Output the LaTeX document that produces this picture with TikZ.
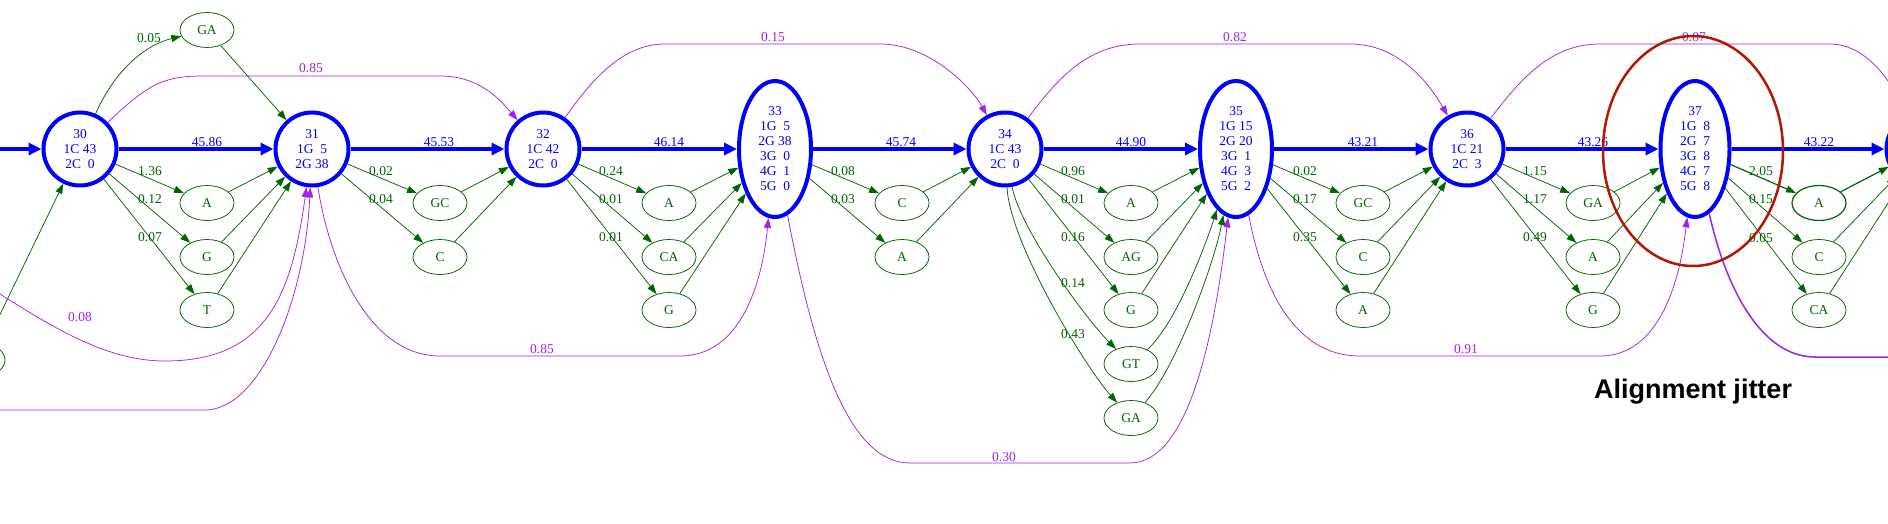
\documentclass[tikz,border=0pt]{standalone}
\usepackage{fontspec}
\setmainfont{Liberation Serif}
\newfontfamily\jitterfont{Liberation Sans}
\usetikzlibrary{arrows.meta,shapes.geometric}
\definecolor{bbblue}{RGB}{0,0,255}
\definecolor{vargreen}{RGB}{0,100,0}
\definecolor{jumppurple}{RGB}{160,32,240}
\definecolor{jitterred}{RGB}{175,25,0}
\begin{document}
\begin{tikzpicture}[x=1pt,y=-1pt,line join=round,font=\fontsize{13.5}{15}\selectfont,
  bbnode/.style={circle,draw=bbblue,line width=4pt,minimum size=73pt,inner sep=0pt,text=bbblue,align=center},
  bbell/.style={bbnode,ellipse,minimum width=72pt,minimum height=136pt},
  varnode/.style={ellipse,draw=vargreen,line width=.75pt,minimum width=54pt,minimum height=35pt,inner sep=0pt,text=vargreen},
  bbedge/.style={draw=bbblue,line width=4pt,-{Triangle[length=13pt,width=12pt]}},
  varedge/.style={draw=vargreen,line width=.75pt,-{Triangle[length=10pt,width=7pt]}},
  jumpedge/.style={draw=jumppurple,line width=.75pt,-{Triangle[length=10pt,width=7pt]}},
  wlbl/.style={inner sep=0pt,text=vargreen},
  blbl/.style={inner sep=0pt,text=bbblue},
  plbl/.style={inner sep=0pt,text=jumppurple}]
\useasboundingbox (0,0) rectangle (1888,523);
\clip (0,0) rectangle (1888,523);
% backbone columns
\node[bbnode] (n30) at (80,149) {30\\1C 43\\2C\ \ 0};
\node[bbnode] (n31) at (312,149) {31\\1G\ \ 5\\2G 38};
\node[bbnode] (n32) at (543,149) {32\\1C 42\\2C\ \ 0};
\node[bbell] (n33) at (775,149) {33\\1G\ \ 5\\2G 38\\3G\ \ 0\\4G\ \ 1\\5G\ \ 0};
\node[bbnode] (n34) at (1005,149) {34\\1C 43\\2C\ \ 0};
\node[bbell] (n35) at (1236,149) {35\\1G 15\\2G 20\\3G\ \ 1\\4G\ \ 3\\5G\ \ 2};
\node[bbnode] (n36) at (1467,149) {36\\1C 21\\2C\ \ 3};
\node[bbell,minimum width=69pt] (n37) at (1695,149) {37\\1G\ \ 8\\2G\ \ 7\\3G\ \ 8\\4G\ \ 7\\5G\ \ 8};
\node[bbnode] (n38) at (1923,149) {};
\coordinate (s29) at (-10,149);
\coordinate (p29a) at (-40,268);
\coordinate (p29b) at (-20,410);
\coordinate (p38) at (1960,357);
% variant nodes
\node[varnode] (v29) at (-22,360) {};
\node[varnode] (v30ga) at (207,30) {GA};
\node[varnode] (v30a) at (207,203) {A};
\node[varnode] (v30g) at (207,257) {G};
\node[varnode] (v30t) at (207,310) {T};
\node[varnode] (v31gc) at (440,203) {GC};
\node[varnode] (v31c) at (440,257) {C};
\node[varnode] (v32a) at (669,203) {A};
\node[varnode] (v32ca) at (669,257) {CA};
\node[varnode] (v32g) at (669,310) {G};
\node[varnode] (v33c) at (902,203) {C};
\node[varnode] (v33a) at (902,257) {A};
\node[varnode] (v34a) at (1131,203) {A};
\node[varnode] (v34ag) at (1131,257) {AG};
\node[varnode] (v34g) at (1131,310) {G};
\node[varnode] (v34gt) at (1131,364) {GT};
\node[varnode] (v34ga) at (1131,418) {GA};
\node[varnode] (v35gc) at (1363,203) {GC};
\node[varnode] (v35c) at (1363,257) {C};
\node[varnode] (v35a) at (1363,310) {A};
\node[varnode] (v36ga) at (1593,203) {GA};
\node[varnode] (v36a) at (1593,257) {A};
\node[varnode] (v36g) at (1593,310) {G};
\node[varnode,line width=1.2pt] (v37a) at (1819,203) {A};
\node[varnode] (v37c) at (1819,257) {C};
\node[varnode] (v37ca) at (1819,310) {CA};
% backbone edges
\draw[bbedge] (s29) -- (n30);
\foreach \s/\t in {n30/n31,n31/n32,n32/n33,n33/n34,n34/n35,n35/n36,n36/n37,n37/n38}
  \draw[bbedge] (\s) -- (\t);
% variant edges
\foreach \s/\v/\t in {n30/v30a/n31,n30/v30g/n31,n30/v30t/n31,n31/v31gc/n32,n31/v31c/n32,
    n32/v32a/n33,n32/v32ca/n33,n32/v32g/n33,n33/v33c/n34,n33/v33a/n34,
    n34/v34a/n35,n34/v34ag/n35,n34/v34g/n35,n35/v35gc/n36,n35/v35c/n36,n35/v35a/n36,
    n36/v36ga/n37,n36/v36a/n37,n36/v36g/n37,n37/v37c/n38,n37/v37ca/n38}
  {\draw[varedge] (\s) -- (\v);
   \draw[varedge] (\v) -- (\t);}
\draw[varedge,line width=1.2pt] (n37) -- (v37a);
\draw[varedge,line width=1.2pt] (v37a) -- (n38);
\draw[varedge] (v29) -- (n30);
\draw[varedge] (n30) .. controls +(35,-79) and +(-62,15) .. (v30ga);
\draw[varedge] (v30ga) -- (n31);
\draw[varedge] (n34) .. controls +(15,80) and +(-45,-45) .. (v34gt);
\draw[varedge] (n34) .. controls +(5,95) and +(-45,-50) .. (v34ga);
\draw[varedge] (v34gt) .. controls +(45,-40) and +(-30,95) .. (n35);
\draw[varedge] (v34ga) .. controls +(45,-50) and +(-22,115) .. (n35);
% jumps
\draw[jumpedge] (p29a) .. controls (40,320) and (100,361) .. (165,361) .. controls (270,361) and (292,290) .. (n31);
\draw[jumpedge] (p29b) -- (205,410) .. controls (260,410) and (305,300) .. (n31);
\draw[jumpedge] (n30) .. controls (150,82) and (165,76) .. (205,76) -- (440,76) .. controls (480,76) and (500,100) .. (n32);
\draw[jumpedge] (n31) .. controls (330,265) and (370,356) .. (440,356) -- (680,356) .. controls (740,356) and (762,285) .. (n33);
\draw[jumpedge] (n32) .. controls (595,75) and (625,44) .. (665,44) -- (880,44) .. controls (930,44) and (972,88) .. (n34);
\draw[jumpedge] (n33) .. controls (815,360) and (850,463) .. (910,463) -- (1130,463) .. controls (1190,463) and (1215,330) .. (n35);
\draw[jumpedge] (n34) .. controls (1060,75) and (1090,44) .. (1140,44) -- (1350,44) .. controls (1400,44) and (1430,85) .. (n36);
\draw[jumpedge] (n35) .. controls (1265,300) and (1300,356) .. (1360,356) -- (1600,356) .. controls (1660,356) and (1680,280) .. (n37);
\draw[jumpedge] (n36) .. controls (1520,80) and (1550,44) .. (1600,44) -- (1830,44) .. controls (1870,44) and (1895,90) .. (n38);
\draw[jumpedge,line width=1.5pt] (n37) .. controls (1725,285) and (1760,357) .. (1815,357) -- (p38);
% weights
\foreach \x/\y/\w [count=\i] in {149/38/0.05,150/171/1.36,150/199/0.12,150/237/0.07,
    381/171/0.02,381/199/0.04,611/171/0.24,611/199/0.01,611/237/0.01,843/171/0.08,843/199/0.03,
    1073/171/0.96,1073/199/0.01,1073/237/0.16,1073/283/0.14,1073/334/0.43,
    1305/171/0.02,1305/199/0.17,1305/237/0.35,1535/171/1.15,1535/199/1.17,1535/237/0.49,
    1761/171/2.05,1761/199/0.15,1761/238/0.05}
  \node[wlbl] (w\i) at (\x,\y) {\w};
\foreach \x/\w [count=\i] in {207/45.86,439/45.53,669/46.14,901/45.74,1131/44.90,1363/43.21,1593/43.26,1819/43.22}
  \node[blbl] (b\i) at (\x,142) {\w};
\foreach \x/\y/\w [count=\i] in {311/68/0.85,80/317/0.08,542/349/0.85,773/37/0.15,1004/457/0.30,1235/37/0.82,1466/349/0.91,1694/37/0.87}
  \node[plbl] (p\i) at (\x,\y) {\w};
% jitter mark
\node[ellipse,draw=jitterred,line width=2.5pt,minimum width=180pt,minimum height=230pt,inner sep=0pt] (jit) at (1693,151) {};
\node[anchor=base,inner sep=0pt,font=\jitterfont\bfseries\fontsize{27}{30}\selectfont] (jitlbl) at (1693,398) {Alignment jitter};
\end{tikzpicture}
\end{document}
